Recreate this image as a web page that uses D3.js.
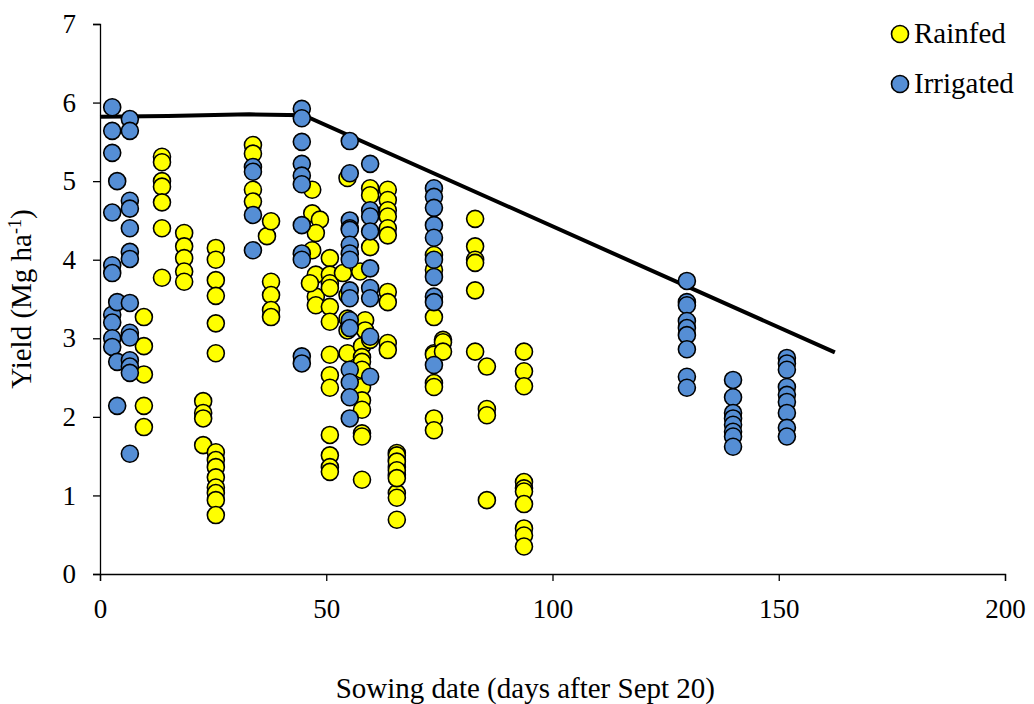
<!DOCTYPE html>
<html>
<head>
<meta charset="utf-8">
<script src="https://cdn.jsdelivr.net/npm/d3@7"></script>
<style>
  html, body { margin: 0; padding: 0; background: #fff; }
  svg { display: block; }
  text { font-family: "Liberation Serif", "Times New Roman", serif; fill: #000; }
</style>
</head>
<body>
<svg id="chart" width="1034" height="704"></svg>
<script>
// Rainfed yields: [sowing day after Sept 20, yield Mg/ha]
const rainfed = [
  [9.7,3.27],[9.7,2.9],[9.7,2.54],[9.7,2.14],[9.7,1.87],
  [13.7,5.31],[13.7,5.24],[13.7,5.0],[13.7,4.93],[13.7,4.73],[13.7,4.4],[13.7,3.77],
  [18.6,4.34],[18.6,4.17],[18.6,4.02],[18.6,3.85],[18.6,3.72],
  [22.8,2.2],[22.8,2.05],[22.8,1.98],[22.8,1.64],
  [25.6,4.15],[25.6,4.0],[25.6,3.74],[25.6,3.54],[25.6,3.19],[25.6,2.81],[25.6,1.55],[25.6,1.45],
  [25.6,1.36],[25.6,1.23],[25.6,1.1],[25.6,1.03],[25.6,0.94],[25.6,0.75],
  [33.8,5.46],[33.8,5.35],[33.8,4.89],[33.8,4.74],
  [36.9,4.3],[37.8,4.49],[37.8,3.72],[37.8,3.55],[37.8,3.36],[37.8,3.27],
  [46.9,4.89],[46.9,4.59],[46.9,4.12],[48.6,4.51],
  [47.7,4.34],[47.7,3.81],[47.7,3.53],[47.7,3.42],[46.4,3.7],
  [50.8,4.02],[50.8,3.81],[50.8,3.7],[50.8,3.64],[50.8,3.4],[50.8,3.21],[50.8,2.79],[50.8,2.53],
  [50.8,2.37],[50.8,1.77],[50.8,1.51],[50.8,1.36],[50.8,1.3],
  [53.7,3.83],[54.7,5.04],[54.7,2.81],[54.7,3.55],[54.7,3.25],[54.7,3.1],
  [57.5,3.85],[58.6,3.23],[58.6,3.1],
  [57.9,2.9],[57.9,2.76],[57.9,2.7],[57.9,2.6],[57.9,2.38],[57.9,2.21],[57.9,2.09],[57.9,1.79],[57.9,1.75],[57.9,1.2],
  [59.7,4.91],[59.7,4.82],[59.7,4.16],[59.7,2.98],
  [63.6,4.89],[63.6,4.76],[63.6,4.63],[63.6,4.55],[63.6,4.4],[63.6,4.31],[63.6,3.59],[63.6,3.46],[63.6,2.94],[63.6,2.85],
  [65.6,1.54],[65.6,1.45],[65.6,1.36],[65.6,1.26],[65.6,1.03],[65.6,0.97],[65.6,0.69],
  [65.6,1.51],[65.6,1.43],[65.6,1.32],[65.6,1.22],
  [73.8,4.06],[73.8,3.87],[73.8,3.27],[73.8,2.81],[73.8,2.79],[73.8,2.43],[73.8,2.38],[73.8,1.98],[73.8,1.83],
  [75.8,2.98],[75.8,2.95],[75.8,2.83],
  [82.9,4.52],[82.9,4.17],[82.9,4.0],[82.9,3.96],[82.9,3.61],[82.9,2.83],
  [85.5,2.64],[85.5,2.1],[85.5,2.02],[85.5,0.94],
  [93.7,2.83],[93.7,2.58],[93.7,2.39],[93.7,1.17],[93.7,1.09],[93.7,1.05],[93.7,0.89],[93.7,0.58],[93.7,0.49],[93.7,0.35]
];

// Irrigated yields: [sowing day after Sept 20, yield Mg/ha]
const irrigated = [
  [2.7,5.94],[2.7,5.64],[2.7,5.36],[2.7,4.6],[2.7,3.93],[2.7,3.83],[2.7,3.3],[2.7,3.2],[2.7,3.0],[2.7,2.89],
  [3.8,5.0],[3.8,3.46],[3.8,2.7],[3.8,2.14],
  [6.6,5.79],[6.6,5.64],[6.6,4.75],[6.6,4.65],[6.6,4.4],[6.6,4.1],[6.6,4.01],[6.6,3.45],[6.6,3.07],
  [6.6,3.01],[6.6,2.72],[6.6,2.64],[6.6,2.56],[6.6,1.53],
  [33.8,5.18],[33.8,5.12],[33.8,4.57],[33.8,4.12],
  [44.6,5.92],[44.6,5.8],[44.6,5.5],[44.6,5.22],[44.6,5.07],[44.6,4.96],[44.6,4.44],[44.6,4.08],[44.6,4.0],
  [44.6,2.77],[44.6,2.68],
  [55.2,5.51],[55.2,5.1],[55.2,4.5],[55.2,4.4],[55.2,4.38],[55.2,4.19],[55.2,4.08],[55.2,4.0],[55.2,3.61],
  [55.2,3.51],[55.2,3.23],[55.2,3.13],[55.2,2.6],[55.2,2.44],[55.2,2.25],[55.2,1.98],
  [59.7,5.22],[59.7,4.63],[59.7,4.55],[59.7,4.36],[59.7,3.89],[59.7,3.64],[59.7,3.51],[59.7,3.02],[59.7,2.51],
  [73.8,4.91],[73.8,4.8],[73.8,4.66],[73.8,4.44],[73.8,4.28],[73.8,4.0],[73.8,3.78],[73.8,3.53],[73.8,3.46],[73.8,2.66],
  [129.7,3.73],[129.7,3.46],[129.7,3.42],[129.7,3.22],[129.7,3.13],[129.7,3.04],[129.7,2.86],[129.7,2.51],[129.7,2.37],
  [139.9,2.47],[139.9,2.25],[139.9,2.05],[139.9,1.98],[139.9,1.9],[139.9,1.81],[139.9,1.75],[139.9,1.62],
  [151.8,2.75],[151.8,2.68],[151.8,2.6],[151.8,2.38],[151.8,2.28],[151.8,2.19],[151.8,2.05],[151.8,1.86],[151.8,1.75]
];

// Upper boundary (plateau then linear decline)
const boundary = [[0,5.82],[15,5.83],[33,5.85],[45,5.84],[162.4,2.82]];

const xTicks = [0, 50, 100, 150, 200];
const yTicks = [0, 1, 2, 3, 4, 5, 6, 7];

const legendItems = [
  { label: "Rainfed", color: "#FFFF00" },
  { label: "Irrigated", color: "#558ED5" }
];

const TICK_FONT = "27px";
const TITLE_FONT = "29px";
const svg = d3.select("#chart");
const margin = { left: 100, right: 29, top: 24, bottom: 130 };
const W = 1034, H = 704;

const x = d3.scaleLinear().domain([0, 200]).range([margin.left, W - margin.right]);
const y = d3.scaleLinear().domain([0, 7]).range([H - margin.bottom, margin.top]);

// Axes
const xAxis = svg.append("g")
  .attr("transform", `translate(0,${y(0)})`)
  .call(d3.axisBottom(x).tickValues(xTicks).tickSize(7).tickPadding(18).tickFormat(d3.format("d")));
const yAxis = svg.append("g")
  .attr("transform", `translate(${x(0)},0)`)
  .call(d3.axisLeft(y).tickValues(yTicks).tickSize(7).tickPadding(17).tickFormat(d3.format("d")));

[xAxis, yAxis].forEach(g => {
  g.select(".domain").attr("stroke", "#000").attr("stroke-width", 1.3);
  g.selectAll(".tick line").attr("stroke", "#000").attr("stroke-width", 1.3);
  g.selectAll(".tick text")
    .style("font-family", "'Liberation Serif', 'Times New Roman', serif")
    .style("font-size", TICK_FONT)
    .attr("fill", "#000");
});

// Boundary line
svg.append("path")
  .datum(boundary)
  .attr("fill", "none")
  .attr("stroke", "#000")
  .attr("stroke-width", 4)
  .attr("d", d3.line().x(d => x(d[0])).y(d => y(d[1])));

// Points
const r = 8.5;
function drawPoints(data, color) {
  svg.append("g").selectAll("circle")
    .data(data)
    .join("circle")
    .attr("cx", d => x(d[0]))
    .attr("cy", d => y(d[1]))
    .attr("r", r)
    .attr("fill", color)
    .attr("stroke", "#000")
    .attr("stroke-width", 1.6);
}
drawPoints(rainfed, legendItems[0].color);
drawPoints(irrigated, legendItems[1].color);

// Legend
const legend = svg.append("g");
legendItems.forEach((item, i) => {
  const ly = 34 + i * 50;
  legend.append("circle")
    .attr("cx", 900).attr("cy", ly).attr("r", r)
    .attr("fill", item.color).attr("stroke", "#000").attr("stroke-width", 1.6);
  legend.append("text")
    .attr("x", 914).attr("y", ly + 9)
    .style("font-size", TITLE_FONT)
    .text(item.label);
});

// Axis titles
svg.append("text")
  .attr("x", x(94))
  .attr("y", 698)
  .attr("text-anchor", "middle")
  .style("font-size", TITLE_FONT)
  .text("Sowing date (days after Sept 20)");

const yt = svg.append("text")
  .attr("transform", `translate(31,${y(3.5)}) rotate(-90)`)
  .attr("text-anchor", "middle")
  .style("font-size", TITLE_FONT);
yt.append("tspan").text("Yield (Mg ha");
yt.append("tspan").attr("dy", -10).style("font-size", "18px").text("-1");
yt.append("tspan").attr("dy", 10).text(")");
</script>
</body>
</html>
